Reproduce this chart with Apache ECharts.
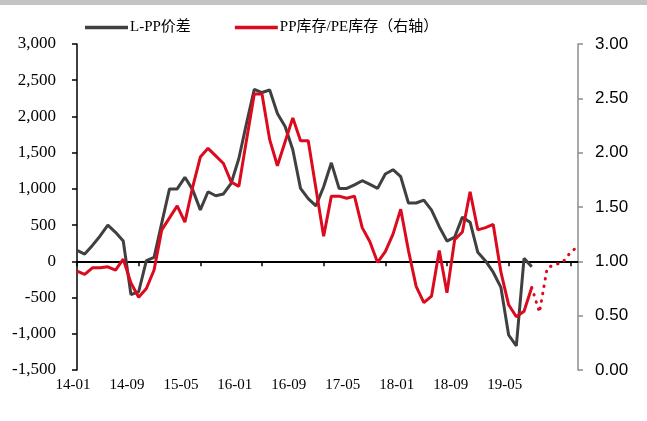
<!DOCTYPE html>
<html>
<head>
<meta charset="utf-8">
<script src="https://cdn.jsdelivr.net/npm/echarts@6/dist/echarts.min.js"></script>
<style>
  html, body { margin: 0; padding: 0; background: #ffffff; }
  #chart { width: 647px; height: 421px; }
</style>
</head>
<body>
<div id="chart"></div>
<script>
// Period labels shown under the axis, one every 7 observations
const periodLabels = ['14-01', '14-09', '15-05', '16-01', '16-09', '17-05', '18-01', '18-09', '19-05'];
const labelStep = 7;
const categoryCount = 66;

// L-PP价差 (left axis)
const spread = [
  150, 100, 220, 350, 500, 400, 280, -460, -420, 10,
  55, 530, 1000, 1000, 1160, 990, 710, 960, 905, 930,
  1076, 1420, 1910, 2375, 2330, 2365, 2040, 1860, 1540, 1007,
  865, 765, 1030, 1360, 1007, 1007, 1055, 1113, 1063, 1007,
  1205, 1265, 1168, 805, 805, 846, 708, 478, 280, 335,
  610, 540, 125, 5, -150, -360, -1017, -1168, 41, -74
];

// PP库存/PE库存 (right axis)
const ratio = [
  0.91, 0.88, 0.94, 0.94, 0.95, 0.92, 1.02, 0.80, 0.67, 0.75,
  0.92, 1.29, 1.40, 1.51, 1.36, 1.68, 1.96, 2.04, 1.97, 1.90,
  1.73, 1.69, 2.12, 2.54, 2.54, 2.12, 1.88, 2.10, 2.32, 2.11,
  2.11, 1.67, 1.23, 1.60, 1.60, 1.58, 1.60, 1.31, 1.18, 0.99,
  1.09, 1.25, 1.48, 1.10, 0.77, 0.62, 0.68, 1.10, 0.71, 1.20,
  1.27, 1.64, 1.29, 1.31, 1.34, 0.90, 0.60, 0.49, 0.54, 0.76
];

// Dotted continuation of the ratio, starting from its last solid observation
const ratioTailStart = 59;
const ratioTail = [0.76, 0.53, 0.94, 0.97, 0.99, 1.08, 1.14];

const categories = [];
for (let i = 0; i < categoryCount; i++) {
  const k = i / labelStep;
  categories.push(i % labelStep === 0 && k < periodLabels.length ? periodLabels[k] : '');
}
const tailData = new Array(categoryCount).fill(null);
ratioTail.forEach((v, j) => { tailData[ratioTailStart + j] = v; });

const serif = "'Liberation Serif', 'Times New Roman', serif";
const legendFont = "'Liberation Serif', 'Noto Sans CJK SC', serif";
const RED = '#dc0a1e';
const GRAY = '#404040';

const chart = echarts.init(document.getElementById('chart'), null, { renderer: 'canvas' });
chart.setOption({
  animation: false,
  backgroundColor: '#ffffff',
  graphic: [{
    type: 'rect', left: 0, top: 0, silent: true,
    shape: { width: 647, height: 5 },
    style: { fill: '#c4c4c4' }
  }],
  legend: {
    data: ['L-PP价差', 'PP库存/PE库存（右轴）'],
    left: 85, top: 20, padding: 0,
    icon: 'rect', itemWidth: 43, itemHeight: 3.5, itemGap: 44,
    textStyle: { fontFamily: legendFont, fontSize: 15, color: '#000', padding: [0, 0, 0, -3] }
  },
  grid: { left: 77, right: 69, top: 44, bottom: 51 },
  xAxis: [{
    type: 'category', data: categories, boundaryGap: false, position: 'bottom',
    axisLine: { show: false, onZero: false },
    axisTick: { show: false },
    axisLabel: {
      interval: 0, margin: 8, color: '#000',
      fontFamily: serif, fontSize: 15, padding: [0, 8, 0, 0]
    },
    splitLine: { show: false }
  }, {
    type: 'category', data: categories, boundaryGap: false, position: 'bottom',
    axisLine: { show: true, onZero: true, onZeroAxisIndex: 0, lineStyle: { color: '#000', width: 2 } },
    axisTick: { show: true, interval: 7, length: 5, lineStyle: { color: '#000', width: 1.5 } },
    axisLabel: { show: false },
    splitLine: { show: false }
  }],
  yAxis: [{
    type: 'value', min: -1500, max: 3000, interval: 500, position: 'left',
    axisLine: { show: true, lineStyle: { color: '#000', width: 1.5 } },
    axisTick: { show: true, length: 5, lineStyle: { color: '#000', width: 1.5 } },
    axisLabel: {
      margin: 21, color: '#000', fontFamily: serif, fontSize: 17,
      formatter: v => v.toLocaleString('en-US')
    },
    splitLine: { show: false }
  }, {
    type: 'value', min: 0, max: 3, interval: 0.5, position: 'right',
    axisLine: { show: true, lineStyle: { color: '#8c8c8c', width: 1.5 } },
    axisTick: { show: true, length: 5, lineStyle: { color: '#8c8c8c', width: 1.5 } },
    axisLabel: {
      margin: 17, color: '#000', fontFamily: "'Liberation Sans', Arial, sans-serif", fontSize: 17,
      formatter: v => v.toFixed(2)
    },
    splitLine: { show: false }
  }],
  series: [{
    name: 'L-PP价差', type: 'line', xAxisIndex: 0, yAxisIndex: 0,
    data: spread, symbol: 'none', color: GRAY,
    lineStyle: { color: GRAY, width: 3 }
  }, {
    name: 'PP库存/PE库存（右轴）', type: 'line', xAxisIndex: 0, yAxisIndex: 1,
    data: ratio, symbol: 'none', color: RED,
    lineStyle: { color: RED, width: 3 }
  }, {
    name: 'ratio-tail', type: 'line', xAxisIndex: 0, yAxisIndex: 1,
    data: tailData, symbol: 'none', color: RED, connectNulls: false,
    lineStyle: { color: RED, width: 3, type: [0.5, 7], cap: 'round' }
  }]
});
</script>
</body>
</html>
